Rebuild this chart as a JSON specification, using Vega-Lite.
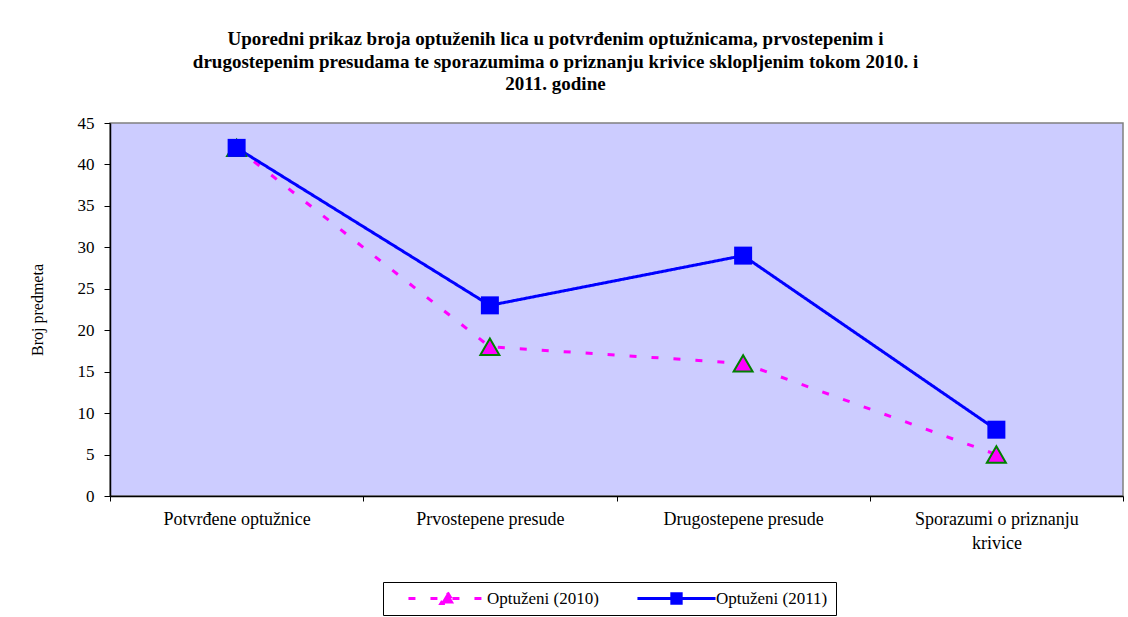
{
  "$schema": "https://vega.github.io/schema/vega-lite/v6.json",
  "width": 1013,
  "height": 373,
  "autosize": {"type": "none"},
  "padding": {"left": 110, "top": 123, "right": 5, "bottom": 121},
  "background": "white",
  "config": {
    "font": "Liberation Serif",
    "view": {"fill": "#CCCCFF", "stroke": "#808080", "strokeWidth": 1.5},
    "axis": {"grid": false, "domainColor": "black", "tickColor": "black", "labelColor": "black", "titleColor": "black", "labelFont": "Liberation Serif", "titleFont": "Liberation Serif"}
  },
  "title": {
    "text": ["Uporedni prikaz broja optuženih lica u potvrđenim optužnicama, prvostepenim i", "drugostepenim presudama te sporazumima o priznanju krivice sklopljenim tokom 2010. i", "2011. godine"],
    "font": "Liberation Serif",
    "fontSize": 19,
    "fontWeight": "bold",
    "color": "black",
    "anchor": "middle",
    "dx": -61,
    "offset": 20,
    "lineHeight": 22.5
  },
  "data": {
    "values": [
      {"kategorija": "Potvrđene optužnice", "serija": "Optuženi (2010)", "broj": 42},
      {"kategorija": "Prvostepene presude", "serija": "Optuženi (2010)", "broj": 18},
      {"kategorija": "Drugostepene presude", "serija": "Optuženi (2010)", "broj": 16},
      {"kategorija": "Sporazumi o priznanju krivice", "serija": "Optuženi (2010)", "broj": 5},
      {"kategorija": "Potvrđene optužnice", "serija": "Optuženi (2011)", "broj": 42},
      {"kategorija": "Prvostepene presude", "serija": "Optuženi (2011)", "broj": 23},
      {"kategorija": "Drugostepene presude", "serija": "Optuženi (2011)", "broj": 29},
      {"kategorija": "Sporazumi o priznanju krivice", "serija": "Optuženi (2011)", "broj": 8}
    ]
  },
  "encoding": {
    "x": {
      "field": "kategorija",
      "type": "nominal",
      "sort": ["Potvrđene optužnice", "Prvostepene presude", "Drugostepene presude", "Sporazumi o priznanju krivice"],
      "bandPosition": 0.5,
      "scale": {"type": "band", "paddingInner": 0, "paddingOuter": 0},
      "axis": {
        "title": null,
        "labelAngle": 0,
        "labelFontSize": 18,
        "labelPadding": 9,
        "labelLineHeight": 24,
        "labelBaseline": "top",
        "labelExpr": "datum.label == 'Sporazumi o priznanju krivice' ? ['Sporazumi o priznanju', 'krivice'] : datum.label",
        "tickBand": "extent",
        "tickSize": 5,
        "domainWidth": 1.5,
        "labelLimit": 300
      }
    },
    "y": {
      "field": "broj",
      "type": "quantitative",
      "scale": {"domain": [0, 45], "nice": false},
      "axis": {
        "title": "Broj predmeta",
        "values": [0, 5, 10, 15, 20, 25, 30, 35, 40, 45],
        "labelFontSize": 17,
        "labelPadding": 10,
        "tickSize": 6,
        "domainWidth": 1.5,
        "titleFontSize": 16,
        "titleFontWeight": "normal",
        "titlePadding": 32
      }
    }
  },
  "layer": [
    {
      "mark": {"type": "line", "strokeWidth": 3},
      "encoding": {
        "color": {
          "field": "serija",
          "type": "nominal",
          "scale": {"domain": ["Optuženi (2010)", "Optuženi (2011)"], "range": ["#FF00FF", "#0000FF"]},
          "legend": {
            "orient": "none",
            "legendX": 273,
            "legendY": 459,
            "direction": "horizontal",
            "title": null,
            "strokeColor": "black",
            "fillColor": "white",
            "padding": 8,
            "symbolSize": 12100,
            "clipHeight": 17,
            "symbolStrokeWidth": 3,
            "labelFont": "Liberation Serif",
            "labelFontSize": 17,
            "labelColor": "black",
            "labelOffset": -17,
            "columnPadding": 21,
            "encode": {
              "symbols": {
                "update": {
                  "fill": {"scale": "color", "field": "value"},
                  "shape": {"signal": "datum.value === 'Optuženi (2010)' ? 'M-0.71,0 H0.71 M0,-0.11 L0.12,0.09 L-0.12,0.09 Z' : 'M-0.71,0 H0.71 M-0.085,-0.085 H0.085 V0.085 H-0.085 Z'"}
                }
              }
            }
          }
        },
        "strokeDash": {
          "field": "serija",
          "type": "nominal",
          "scale": {"domain": ["Optuženi (2010)", "Optuženi (2011)"], "range": [[7, 15], [1, 0]]},
          "legend": null
        }
      }
    },
    {
      "transform": [{"filter": "datum.serija === 'Optuženi (2010)'"}],
      "mark": {"type": "point", "shape": "triangle-up", "size": 361, "filled": true, "fill": "#FF00FF", "stroke": "#008000", "strokeWidth": 2, "opacity": 1}
    },
    {
      "transform": [{"filter": "datum.serija === 'Optuženi (2011)'"}],
      "mark": {"type": "point", "shape": "square", "size": 324, "filled": true, "fill": "#0000FF", "stroke": "#0000FF", "strokeWidth": 0, "opacity": 1}
    }
  ]
}
